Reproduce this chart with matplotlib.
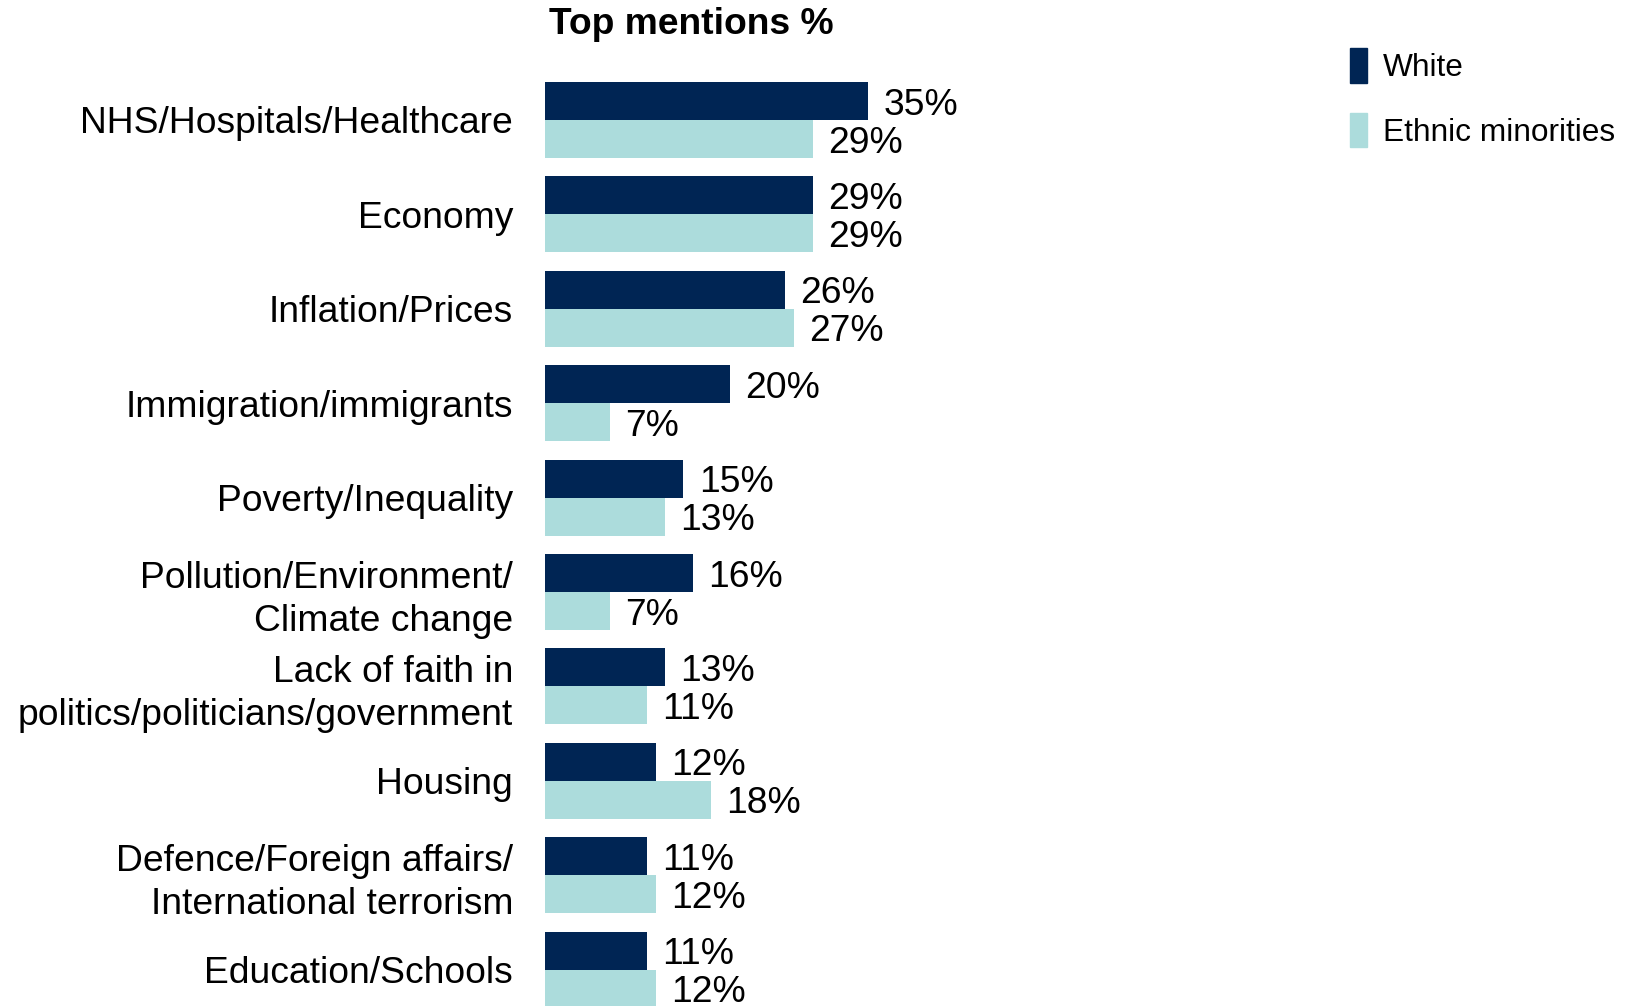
import matplotlib
matplotlib.use('Agg')
import matplotlib.pyplot as plt
from matplotlib.patches import Patch

plt.rcParams['font.family'] = ['Liberation Sans', 'DejaVu Sans']

categories = ['NHS/Hospitals/Healthcare', 'Economy', 'Inflation/Prices',
              'Immigration/immigrants', 'Poverty/Inequality',
              'Pollution/Environment/\nClimate change',
              'Lack of faith in\npolitics/politicians/government', 'Housing',
              'Defence/Foreign affairs/\nInternational terrorism',
              'Education/Schools']
white = [35, 29, 26, 20, 15, 16, 13, 12, 11, 11]
ethnic = [29, 29, 27, 7, 13, 7, 11, 18, 12, 12]
series_names = ['White', 'Ethnic minorities']

dark = '#002554'
light = '#acdcdc'

W, H = 1647, 1006
fig = plt.figure(figsize=(W / 100, H / 100), dpi=100)
ax = fig.add_axes([545 / W, 0, (1200 - 545) / W, 1])

bh = 38 / 94.4
ys = list(range(len(categories)))
ax.barh([y - bh / 2 for y in ys], white, height=bh, color=dark)
ax.barh([y + bh / 2 for y in ys], ethnic, height=bh, color=light)

for y, v in zip(ys, white):
    ax.annotate(f'{v}%', (v, y - bh / 2), xytext=(11, -3), textcoords='offset points',
                va='center', ha='left', fontsize=26.8)
for y, v in zip(ys, ethnic):
    ax.annotate(f'{v}%', (v, y + bh / 2), xytext=(11, -3), textcoords='offset points',
                va='center', ha='left', fontsize=26.8)

ax.set_xlim(0, (1200 - 545) / 9.23)
ax.set_ylim((1006 - 120) / 94.4, -120 / 94.4)
ax.set_yticks(ys)
ax.set_yticklabels(categories, fontsize=26.85, linespacing=1.28)
ax.tick_params(axis='y', length=0, pad=23)
ax.set_xticks([])
for s in ax.spines.values():
    s.set_visible(False)

fig.text(549 / W, 1 - 24 / H, 'Top mentions %', fontsize=26.8, fontweight='bold',
         ha='left', va='center')

handles = [Patch(color=dark), Patch(color=light)]
fig.legend(handles, series_names, loc='upper left',
           bbox_to_anchor=(1350 / W, 1 - 48 / H), frameon=False, fontsize=22.8,
           handlelength=0.54, handleheight=1.3, handletextpad=0.5,
           labelspacing=0.95, borderpad=0, borderaxespad=0)

fig.savefig('out.png', dpi=100)
